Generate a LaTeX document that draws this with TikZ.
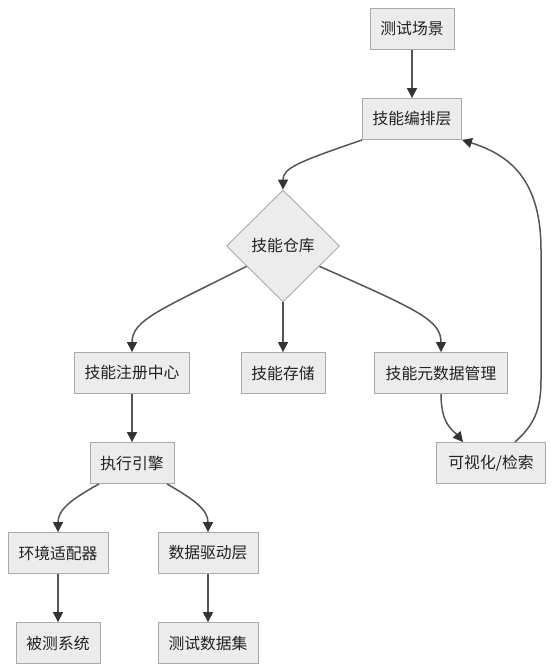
\documentclass[tikz,border=0pt]{standalone}
\usepackage{fontspec}
\newfontfamily\cjk{Noto Sans CJK SC}
\usetikzlibrary{arrows.meta,shapes.geometric,calc}
\definecolor{boxfill}{HTML}{ECECEC}
\definecolor{boxline}{HTML}{AAAAAA}
\definecolor{edgecol}{HTML}{555555}
\definecolor{tipcol}{HTML}{333333}
\definecolor{txtcol}{HTML}{222222}
\begin{document}
\begin{tikzpicture}[x=1pt,y=-1pt,
  box/.style={draw=boxline, fill=boxfill, line width=0.9pt, minimum height=41pt,
    inner sep=0pt, font=\cjk\fontsize{15.8}{18}\selectfont, text=txtcol},
  dia/.style={diamond, aspect=1, draw=boxline, fill=boxfill, line width=0.9pt,
    minimum width=113pt, minimum height=112pt, inner sep=0pt,
    font=\cjk\fontsize{15.8}{18}\selectfont, text=txtcol},
  edge/.style={draw=edgecol, line width=1.5pt,
    -{Triangle[length=10pt,width=10pt,color=tipcol]}}
]
\useasboundingbox (0,0) rectangle (554,672);

\node[box, minimum width=84pt]  (s1)   at (412,29)  {测试场景};
\node[box, minimum width=99pt]  (s2)   at (412,119) {技能编排层};
\node[dia]                      (d)    at (283,246) {技能仓库};
\node[box, minimum width=115pt] (reg)  at (132,373) {技能注册中心};
\node[box, minimum width=84pt]  (sto)  at (283,373) {技能存储};
\node[box, minimum width=133pt] (meta) at (441,373) {技能元数据管理};
\node[box, minimum width=109pt] (vis)  at (491,463) {可视化/检索};
\node[box, minimum width=84pt]  (exe)  at (132,463) {执行引擎};
\node[box, minimum width=100pt] (env)  at (58,553)  {环境适配器};
\node[box, minimum width=100pt] (drv)  at (208,553) {数据驱动层};
\node[box, minimum width=84pt]  (sut)  at (58,643)  {被测系统};
\node[box, minimum width=100pt] (data) at (208,643) {测试数据集};

\draw[edge] (s1.south) -- (s2.north);
\draw[edge] (s2.south west) .. controls (298,162) and (283,168) .. (d.north);
\draw[edge] ($(d.west)!0.36!(d.south)$) .. controls (160,310) and (132,320) .. (reg.north);
\draw[edge] (d.south) -- (sto.north);
\draw[edge] ($(d.east)!0.36!(d.south)$) .. controls (418,310) and (441,320) .. (meta.north);
\draw[edge] (meta.south) .. controls (441,425) and (453,430) .. ([xshift=-28pt]vis.north);
\draw[edge] ([xshift=24pt]vis.north) .. controls (534,425) and (541,410) .. (541,380)
  -- (541,250) .. controls (541,180) and (510,155) .. (s2.south east);
\draw[edge] (reg.south) -- (exe.north);
\draw[edge] ([xshift=-33pt]exe.south) .. controls (70,500) and (58,510) .. (env.north);
\draw[edge] ([xshift=35pt]exe.south) .. controls (195,500) and (208,510) .. (drv.north);
\draw[edge] (env.south) -- (sut.north);
\draw[edge] (drv.south) -- (data.north);
\end{tikzpicture}
\end{document}
